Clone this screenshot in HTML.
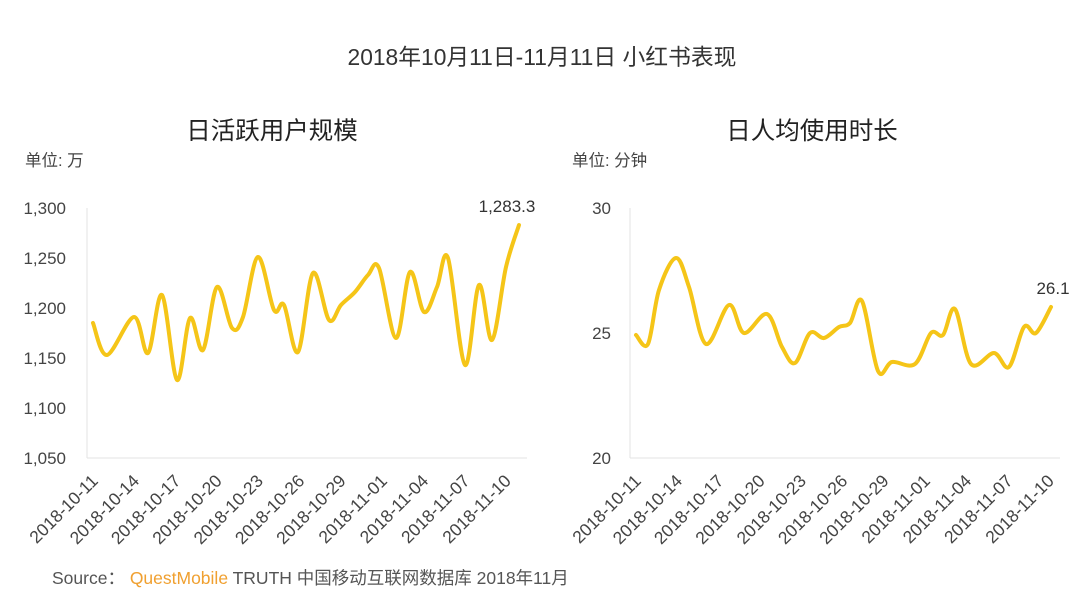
<!DOCTYPE html>
<html><head><meta charset="utf-8"><style>
body{margin:0;background:#fff;width:1080px;height:609px;overflow:hidden}
text{font-family:"Liberation Sans","Noto Sans CJK SC",sans-serif}
</style></head><body>
<svg width="1080" height="609" xmlns="http://www.w3.org/2000/svg">
<text x="542" y="65" font-size="22.8" text-anchor="middle" fill="#333">2018年10月11日-11月11日 小红书表现</text>
<text x="272" y="139" font-size="24.5" text-anchor="middle" fill="#222">日活跃用户规模</text>
<text x="812" y="139" font-size="24.5" text-anchor="middle" fill="#222">日人均使用时长</text>
<text x="25" y="166" font-size="16.5" fill="#444">单位: 万</text>
<text x="572" y="166" font-size="16.5" fill="#444">单位: 分钟</text>
<g font-size="17" fill="#444" text-anchor="end">
<text x="66" y="214">1,300</text><text x="66" y="264">1,250</text><text x="66" y="314">1,200</text>
<text x="66" y="364">1,150</text><text x="66" y="414">1,100</text><text x="66" y="464">1,050</text>
<text x="611" y="214">30</text><text x="611" y="339">25</text><text x="611" y="464">20</text>
</g>
<g stroke="#e3e3e3" stroke-width="1">
<line x1="87" y1="208" x2="87" y2="458"/><line x1="87" y1="458" x2="527" y2="458"/>
<line x1="630" y1="208" x2="630" y2="458"/><line x1="630" y1="458" x2="1060" y2="458"/>
</g>
<path id="p1" fill="none" stroke="#f5c518" stroke-width="4" stroke-linecap="round"/>
<path id="p2" fill="none" stroke="#f5c518" stroke-width="4" stroke-linecap="round"/>
<text x="507" y="212" font-size="17" fill="#333" text-anchor="middle">1,283.3</text>
<text x="1053" y="294" font-size="17" fill="#333" text-anchor="middle">26.1</text>
<g id="xl1" font-size="17.5" fill="#444" text-anchor="end"></g>
<g id="xl2" font-size="17.5" fill="#444" text-anchor="end"></g>
<text x="52" y="584" font-size="17.5" fill="#555">Source： <tspan fill="#f0a030">QuestMobile</tspan> TRUTH 中国移动互联网数据库 2018年11月</text>
</svg>
<script>
function cr(p){let d="M"+p[0][0]+","+p[0][1];for(let i=0;i<p.length-1;i++){const a=p[i-1]||p[i],b=p[i],c=p[i+1],e=p[i+2]||c;
d+=" C"+(b[0]+(c[0]-a[0])/6)+","+(b[1]+(c[1]-a[1])/6)+" "+(c[0]-(e[0]-b[0])/6)+","+(c[1]-(e[1]-b[1])/6)+" "+c[0]+","+c[1];}return d;}
const a=[[93,323],[107,355],[134,317],[148,353],[162,295],[177,380],[190,318],[203,350],[217,287],[232,328],[243,317],[258,257],[274,310],[284,305],[298,352],[313,273],[329,320],[341,305],[355,292],[368,275],[379,268],[396,338],[410,272],[424,312],[437,287],[448,258],[465,365],[479,285],[492,340],[506,267],[519,225]];
const b=[[636,335],[648,344],[659,290],[676,258],[689,287],[706,344],[729,305],[744,333],[767,314],[782,347],[795,363],[810,333],[824,338],[839,327],[850,323],[862,301],[878,371],[892,362],[915,364],[931,333],[943,335],[955,309],[971,364],[994,353],[1009,367],[1024,327],[1036,333],[1051,307]];
document.getElementById("p1").setAttribute("d",cr(a));
document.getElementById("p2").setAttribute("d",cr(b));
const L=["2018-10-11","2018-10-14","2018-10-17","2018-10-20","2018-10-23","2018-10-26","2018-10-29","2018-11-01","2018-11-04","2018-11-07","2018-11-10"];
function lab(id,x0,dx){let s="";L.forEach((t,i)=>{const x=x0+i*dx;s+='<text transform="translate('+x+',482) rotate(-45)">'+t+'</text>';});document.getElementById(id).innerHTML=s;}
lab("xl1",99,41.3);lab("xl2",642,41.3);
</script>
</body></html>
